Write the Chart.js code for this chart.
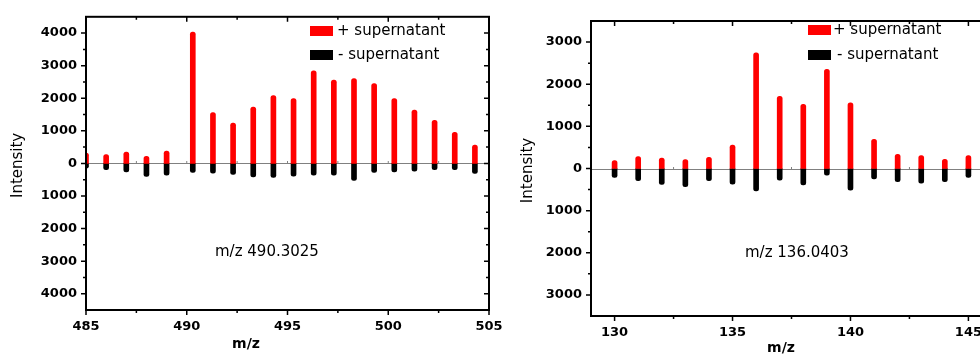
<!DOCTYPE html>
<html>
<head>
<meta charset="utf-8">
<script src="https://cdn.jsdelivr.net/npm/chart.js@4.4.1/dist/chart.umd.min.js"></script>
<style>
  html, body { margin: 0; padding: 0; background: #fff; overflow: hidden; }
  #wrap { position: relative; width: 980px; height: 356px; overflow: hidden; }
  #leftCanvas { position: absolute; left: 0; top: 0; }
  #rightCanvas { position: absolute; left: 500px; top: 0; }
</style>
</head>
<body>
<div id="wrap">
  <canvas id="leftCanvas" width="520" height="356"></canvas>
  <canvas id="rightCanvas" width="510" height="356"></canvas>
</div>
<script>
// 左图: m/z 490.3025
const leftMz = [485, 486, 487, 488, 489, 490.3, 491.3, 492.3, 493.3, 494.3,
                495.3, 496.3, 497.3, 498.3, 499.3, 500.3, 501.3, 502.3, 503.3, 504.3];
const leftPlus = [320, 270, 350, 220, 380, 4030, 1560, 1240, 1730, 2080,
                  1990, 2840, 2560, 2600, 2450, 1990, 1640, 1320, 950, 560];
const leftMinus = [-150, -190, -265, -400, -365, -275, -300, -340, -415, -430,
                   -395, -365, -365, -520, -280, -265, -240, -190, -190, -310];
const leftXTicks = [485, 490, 495, 500, 505];
const leftYTicks = [-4000, -3000, -2000, -1000, 0, 1000, 2000, 3000, 4000];

// 右图: m/z 136.0403
const rightMz = [130, 131, 132, 133, 134, 135, 136, 137, 138, 139, 140, 141, 142, 143, 144, 145];
const rightPlus = [190, 285, 245, 210, 265, 555, 2745, 1715, 1520, 2355, 1560, 695, 335, 305, 215, 305];
const rightMinus = [-210, -290, -375, -430, -290, -370, -530, -275, -390, -160, -515, -245, -315, -350, -315, -210];
const rightXTicks = [130, 135, 140, 145];
const rightYTicks = [-3000, -2000, -1000, 0, 1000, 2000, 3000];

const seriesLabels = ['+ supernatant', '- supernatant'];
const seriesColors = ['#ff0000', '#000000'];

const tickFont = { family: 'DejaVu Sans', weight: 'bold', size: 13 };

// majors plus the half-way minor ticks
function withMinors(majors) {
    const out = [];
    for (let i = 0; i < majors.length; i++) {
        out.push(majors[i]);
        if (i < majors.length - 1) out.push((majors[i] + majors[i + 1]) / 2);
    }
    return out;
}

function panelDecor(cfg) {
    return {
        id: 'panelDecor',
        beforeDatasetsDraw(chart) {
            const { ctx, chartArea: a, scales: { x, y } } = chart;
            const y0 = Math.round(y.getPixelForValue(0)) + 0.5;
            ctx.save();
            ctx.strokeStyle = '#808080';
            ctx.lineWidth = 1;
            ctx.beginPath();
            ctx.moveTo(a.left, y0);
            ctx.lineTo(a.right, y0);
            x.ticks.forEach(t => {
                const px = x.getPixelForValue(t.value);
                ctx.moveTo(px, y0);
                ctx.lineTo(px, y0 - 2.5);
            });
            ctx.stroke();
            ctx.restore();
        },
        afterDraw(chart) {
            const { ctx, chartArea: a, scales: { x, y } } = chart;
            ctx.save();
            // frame
            ctx.strokeStyle = '#000';
            ctx.lineWidth = 2;
            ctx.strokeRect(a.left, a.top, a.right - a.left, a.bottom - a.top);

            // tick marks
            ctx.lineWidth = 1.5;
            ctx.beginPath();
            y.ticks.forEach(t => {
                const py = y.getPixelForValue(t.value);
                const len = cfg.yMajor.includes(t.value) ? 5 : 3;
                ctx.moveTo(a.left - len, py); ctx.lineTo(a.left, py);
                ctx.moveTo(a.right, py); ctx.lineTo(a.right - len, py);
            });
            x.ticks.forEach(t => {
                const px = x.getPixelForValue(t.value);
                const len = cfg.xMajor.includes(t.value) ? 5 : 3;
                ctx.moveTo(px, a.bottom); ctx.lineTo(px, a.bottom + len);
                ctx.moveTo(px, a.top); ctx.lineTo(px, a.top + len);
            });
            ctx.stroke();

            ctx.fillStyle = '#000';
            // y title
            ctx.save();
            ctx.translate(cfg.yTitleX, (a.top + a.bottom) / 2 + 2);
            ctx.rotate(-Math.PI / 2);
            ctx.font = '15px "DejaVu Sans"';
            ctx.textAlign = 'center';
            ctx.textBaseline = 'middle';
            ctx.fillText('Intensity', 0, 0);
            ctx.restore();

            // x title
            ctx.font = 'bold 14px "DejaVu Sans"';
            ctx.textAlign = 'center';
            ctx.textBaseline = 'middle';
            ctx.fillText('m/z', cfg.xTitleX, cfg.xTitleY);

            // note
            ctx.font = '15px "DejaVu Sans"';
            ctx.textAlign = 'left';
            ctx.fillText(cfg.note, cfg.noteX, cfg.noteY);

            // legend
            chart.data.datasets.forEach((ds, i) => {
                const ly = cfg.legendY[i];
                ctx.fillStyle = ds.backgroundColor;
                ctx.fillRect(cfg.legendX, ly - 5, 23, 10);
                ctx.fillStyle = '#000';
                ctx.fillText(ds.label, cfg.legendX + 23 + cfg.legendGap[i], ly);
            });
            ctx.restore();
        }
    };
}

function makePanel(canvasId, mz, plus, minus, xMajor, yMajor, xRange, yRange, box, cfg) {
    const ctx = document.getElementById(canvasId).getContext('2d');
    const W = ctx.canvas.width, H = ctx.canvas.height;
    cfg.xMajor = xMajor;
    cfg.yMajor = yMajor;
    const values = [plus, minus];
    const datasets = values.map((vals, i) => ({
        label: seriesLabels[i],
        data: mz.map((m, j) => ({ x: m, y: vals[j] })),
        backgroundColor: seriesColors[i],
        borderWidth: 0,
        borderRadius: 2.5,
        barThickness: 5,
        grouped: false
    }));
    return new Chart(ctx, {
        type: 'bar',
        data: { datasets: datasets },
        options: {
            responsive: false,
            animation: false,
            layout: {
                autoPadding: false,
                padding: { top: box.top, right: W - box.right, left: 0, bottom: 0 }
            },
            plugins: { legend: { display: false }, tooltip: { enabled: false } },
            scales: {
                x: {
                    type: 'linear',
                    min: xRange[0],
                    max: xRange[1],
                    offset: false,
                    grid: { display: false, drawTicks: false },
                    border: { display: false },
                    afterBuildTicks: s => { s.ticks = withMinors(xMajor).map(v => ({ value: v })); },
                    afterFit: s => { s.height = H - box.bottom; },
                    ticks: {
                        font: tickFont,
                        color: '#000',
                        padding: 9,
                        maxRotation: 0,
                        autoSkip: false,
                        callback: v => xMajor.includes(v) ? String(v) : ''
                    }
                },
                y: {
                    min: yRange[0],
                    max: yRange[1],
                    grid: { display: false, drawTicks: false },
                    border: { display: false },
                    afterBuildTicks: s => { s.ticks = withMinors(yMajor).map(v => ({ value: v })); },
                    afterFit: s => { s.width = box.left; },
                    ticks: {
                        font: tickFont,
                        color: '#000',
                        padding: 9,
                        autoSkip: false,
                        callback: v => yMajor.includes(v) ? String(Math.abs(v)) : ''
                    }
                }
            }
        },
        plugins: [panelDecor(cfg)]
    });
}

makePanel('leftCanvas', leftMz, leftPlus, leftMinus, leftXTicks, leftYTicks,
    [485, 505], [-4500, 4500],
    { left: 86, right: 489, top: 14, bottom: 310 },
    { yTitleX: 18, xTitleX: 246, xTitleY: 344, note: 'm/z 490.3025', noteX: 215, noteY: 252,
      legendX: 310, legendY: [31, 55], legendGap: [4, 5] });

makePanel('rightCanvas', rightMz, rightPlus, rightMinus, rightXTicks, rightYTicks,
    [129, 146], [-3500, 3500],
    { left: 91, right: 492, top: 21, bottom: 316 },
    { yTitleX: 28, xTitleX: 281, xTitleY: 348, note: 'm/z 136.0403', noteX: 245, noteY: 253,
      legendX: 308, legendY: [30, 55], legendGap: [2, 6] });
</script>
</body>
</html>
